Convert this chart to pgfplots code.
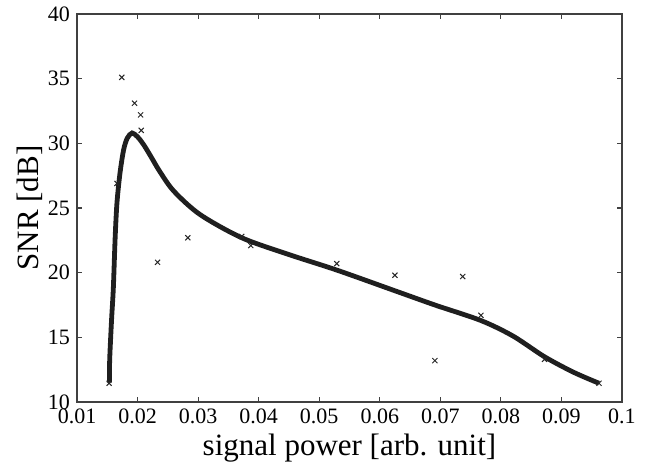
\documentclass[border=0pt]{standalone}
\usepackage{fontspec}
\setmainfont{Liberation Serif}
\usepackage{pgfplots}
\pgfplotsset{compat=1.18}

\begin{document}
\begin{tikzpicture}
\begin{axis}[
  scale only axis,
  width=272.5pt, height=194pt,
  xmin=0.01, xmax=0.1, ymin=10, ymax=40,
  xtick={0.01,0.02,...,0.1},
  xticklabels={0.01,0.02,0.03,0.04,0.05,0.06,0.07,0.08,0.09,0.1},
  ytick={10,15,...,40},
  tick align=inside,
  major tick length=2.5pt,
  axis line style={black!75, line width=0.6pt},
  tick style={black!75, line width=0.6pt},
  tick label style={font=\fontsize{11}{12}\selectfont},
  /pgf/number format/assume math mode=true,
  xlabel={signal power [arb. unit]},
  ylabel={SNR [dB]},
  label style={font=\fontsize{15.5}{17}\selectfont},
  xlabel style={yshift=2pt},
  ylabel style={yshift=-4pt},
]
% measured points
\addplot[only marks, mark=x, mark size=1.8pt, black!85, line width=0.5pt]
  coordinates{
  (0.0153,11.45) (0.0166,26.9) (0.0174,35.1) (0.0195,33.1) (0.0205,32.2)
  (0.0206,31.0) (0.0233,20.8) (0.0283,22.7) (0.0372,22.8) (0.0387,22.1)
  (0.0529,20.7) (0.0625,19.8) (0.0691,13.2) (0.0737,19.7) (0.0767,16.7)
  (0.0872,13.3) (0.0962,11.45)};
% fitted curve
\addplot[black!88, line width=2.4pt, smooth, tension=0.5]
  coordinates{
  (0.01535,11.5) (0.0154,13.3) (0.0157,16.3) (0.0160,18.8) (0.0163,22.7)
  (0.0166,25.4) (0.0171,27.7) (0.0177,29.5) (0.0183,30.4) (0.0191,30.8)
  (0.0200,30.5) (0.0210,29.9) (0.0223,28.9) (0.0237,27.8) (0.0260,26.3)
  (0.0303,24.5) (0.0372,22.7) (0.0450,21.4) (0.0529,20.2) (0.0625,18.6)
  (0.0691,17.5) (0.0767,16.3) (0.0820,15.1) (0.0872,13.5) (0.0920,12.3)
  (0.0962,11.45)};
\end{axis}
\pgfresetboundingbox
\path ([shift={(-38.5pt,-30.5pt)}]current axis.south west)
  rectangle ([shift={(13.5pt,7pt)}]current axis.north east);
\end{tikzpicture}
\end{document}
